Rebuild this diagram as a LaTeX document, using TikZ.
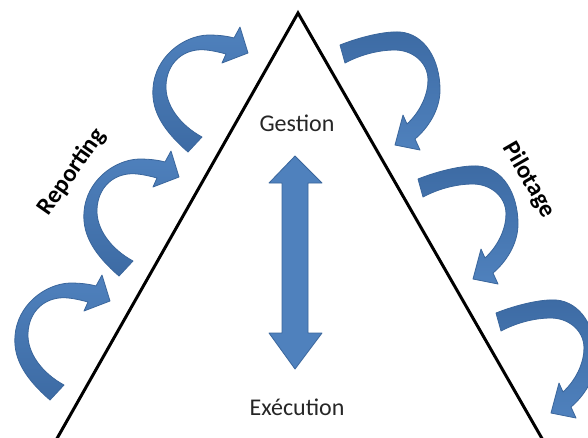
\documentclass[tikz,border=0pt]{standalone}
\usepackage{fontspec}
\setmainfont{Carlito}
\definecolor{ablue}{HTML}{4F81BD}
\definecolor{adark}{HTML}{3D6BA4}
\definecolor{aline}{HTML}{3A669C}
\begin{document}
\begin{tikzpicture}[x=1pt,y=-1pt,
  shapeA/.style={draw=aline, line width=0.8pt, line join=round},
  tri/.style={line width=3pt, line join=miter},
  lbl/.style={font=\fontsize{24}{28}\selectfont, text=black!85},
  side/.style={font=\bfseries\fontsize{24.5}{28}\selectfont, text=black},
  curvL/.pic={
    \path[shapeA, top color=ablue, bottom color=adark]
      (188,152) .. controls (165,132) and (151,112) .. (153,88)
      .. controls (155,58) and (182,36) .. (208,35)
      .. controls (218,35) and (227,36) .. (234,38)
      -- (240,27) -- (248,53) -- (222,63) -- (226,54)
      .. controls (215,51) and (205,49) .. (197,50)
      .. controls (180,52) and (167,65) .. (166,85)
      .. controls (165,105) and (180,125) .. (202,137) -- cycle;
  },
  curvR/.pic={
    \path[shapeA, top color=adark, bottom color=ablue]
      (340,45) .. controls (360,37) and (385,31) .. (400,32)
      .. controls (425,34) and (440,60) .. (440,90)
      .. controls (440,110) and (428,128) .. (415,139)
      -- (420,150) -- (395,145) -- (403,115) -- (407,124)
      .. controls (420,112) and (428,95) .. (428,80)
      .. controls (428,62) and (412,50) .. (395,50)
      .. controls (378,50) and (360,55) .. (345,63) -- cycle;
  }
]
\useasboundingbox (0,0) rectangle (588,437);
\clip (0,0) rectangle (588,437);
\fill[white] (0,0) rectangle (588,437);

% triangle
\coordinate (apex) at (298,13);
\coordinate (bl) at (55,442);
\coordinate (br) at (544,442);
\draw[tri] (bl) -- (apex) -- (br);

% curved arrows
\pic at (0,0) {curvL};
\pic[shift={(-69,124)}] at (0,0) {curvL};
\pic[shift={(-138,248)}] at (0,0) {curvL};
\pic at (0,0) {curvR};
\pic[shift={(78,134)}] at (0,0) {curvR};
\pic[shift={(156,268)}] at (0,0) {curvR};

% double arrow
\path[shapeA, fill=ablue]
  (295,156) -- (322,183) -- (308,183) -- (308,333) -- (322,333)
  -- (295,369) -- (269,333) -- (282,333) -- (282,183) -- (269,183) -- cycle;

% labels
\node[lbl] (gestion) at (297,123) {Gestion};
\node[lbl] (execution) at (297,407) {Exécution};
\node[side, rotate=55] (reporting) at (72,172) {Reporting};
\node[side, rotate=-60] (pilotage) at (529,180) {Pilotage};
\end{tikzpicture}
\end{document}
